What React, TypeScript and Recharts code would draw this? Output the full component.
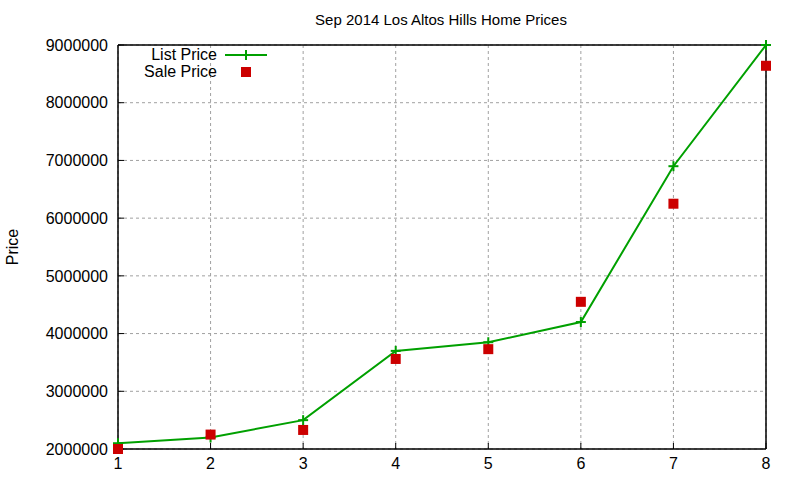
import React from "react";
import {
  ComposedChart,
  Line,
  Scatter,
  XAxis,
  YAxis,
  CartesianGrid,
} from "recharts";

const positions = [1, 2, 3, 4, 5, 6, 7, 8];
const listPrices = [2100000, 2200000, 2500000, 3700000, 3850000, 4200000, 6900000, 9000000];
const salePrices = [2000000, 2250000, 2330000, 3560000, 3730000, 4550000, 6250000, 8640000];
const xTicks = [1, 2, 3, 4, 5, 6, 7, 8];
const yTicks = [2000000, 3000000, 4000000, 5000000, 6000000, 7000000, 8000000, 9000000];

const data = positions.map((x, i) => ({ x, list: listPrices[i], sale: salePrices[i] }));

const GREEN = "#00a000";
const RED = "#cc0000";
const FONT = "'Liberation Sans', Arial, sans-serif";

const PlusDot = (props: any) => {
  const { cx, cy } = props;
  if (cx == null || cy == null) return null;
  return (
    <g>
      <line x1={cx - 5} y1={cy} x2={cx + 5} y2={cy} stroke={GREEN} strokeWidth={2} />
      <line x1={cx} y1={cy - 5} x2={cx} y2={cy + 5} stroke={GREEN} strokeWidth={2} />
    </g>
  );
};

const SquareDot = (props: any) => {
  const { cx, cy } = props;
  if (cx == null || cy == null) return null;
  return <rect x={cx - 5} y={cy - 5} width={10} height={10} fill={RED} />;
};

export default function App() {
  return (
    <div style={{ position: "absolute", left: 0, top: 0, width: 800, height: 480, background: "#fff" }}>
      <div style={{ position: "absolute", left: 0, top: 0 }}>
        <ComposedChart
          width={800}
          height={480}
          data={data}
          margin={{ top: 44, right: 33, bottom: 30, left: 0 }}
        >
          <CartesianGrid
            xAxisId="b"
            yAxisId="l"
            stroke="#a0a0a0"
            strokeDasharray="3 3"
            horizontalValues={yTicks}
            verticalValues={xTicks}
          />
          <XAxis
            xAxisId="b"
            dataKey="x"
            type="number"
            domain={[1, 8]}
            ticks={xTicks}
            orientation="bottom"
            height={1}
            tickSize={-6}
            tickMargin={15}
            tick={{ fill: "#000", fontSize: 16, fontFamily: FONT }}
            axisLine={{ stroke: "#000", strokeWidth: 1.5 }}
            tickLine={{ stroke: "#000" }}
          />
          <XAxis
            xAxisId="t"
            dataKey="x"
            type="number"
            domain={[1, 8]}
            ticks={xTicks}
            orientation="top"
            height={1}
            tickSize={-6}
            tick={false}
            axisLine={{ stroke: "#000", strokeWidth: 1.5 }}
            tickLine={{ stroke: "#000" }}
          />
          <YAxis
            yAxisId="l"
            type="number"
            domain={[2000000, 9000000]}
            ticks={yTicks}
            orientation="left"
            width={118}
            tickSize={-6}
            tickMargin={16}
            tick={{ fill: "#000", fontSize: 16, fontFamily: FONT }}
            axisLine={{ stroke: "#000", strokeWidth: 1.5 }}
            tickLine={{ stroke: "#000" }}
          />
          <YAxis
            yAxisId="r"
            type="number"
            domain={[2000000, 9000000]}
            ticks={yTicks}
            orientation="right"
            width={1}
            tickSize={-6}
            tick={false}
            axisLine={{ stroke: "#000", strokeWidth: 1.5 }}
            tickLine={{ stroke: "#000" }}
          />
          <Line
            xAxisId="t"
            yAxisId="r"
            dataKey="list"
            stroke="none"
            dot={false}
            activeDot={false}
            legendType="none"
            isAnimationActive={false}
          />
          <Line
            xAxisId="b"
            yAxisId="l"
            dataKey="list"
            name="List Price"
            stroke={GREEN}
            strokeWidth={2}
            dot={<PlusDot />}
            activeDot={false}
            isAnimationActive={false}
          />
          <Scatter
            xAxisId="b"
            yAxisId="l"
            dataKey="sale"
            name="Sale Price"
            shape={<SquareDot />}
            isAnimationActive={false}
          />
        </ComposedChart>
      </div>
      <svg width={800} height={480} style={{ position: "absolute", left: 0, top: 0, pointerEvents: "none" }}>
        <text x={441} y={25} textAnchor="middle" fontSize={15} fontFamily={FONT} fill="#000">
          Sep 2014 Los Altos Hills Home Prices
        </text>
        <text
          x={18}
          y={247}
          textAnchor="middle"
          fontSize={16}
          fontFamily={FONT}
          fill="#000"
          transform="rotate(-90 18 247)"
        >
          Price
        </text>
        <g>
          <text x={217} y={60} textAnchor="end" fontSize={16} fontFamily={FONT} fill="#000">
            List Price
          </text>
          <line x1={225} y1={55} x2={267} y2={55} stroke={GREEN} strokeWidth={2} />
          <line x1={246} y1={50} x2={246} y2={60} stroke={GREEN} strokeWidth={2} />
          <text x={217} y={77} textAnchor="end" fontSize={16} fontFamily={FONT} fill="#000">
            Sale Price
          </text>
          <rect x={241} y={67} width={10} height={10} fill={RED} />
        </g>
      </svg>
    </div>
  );
}
